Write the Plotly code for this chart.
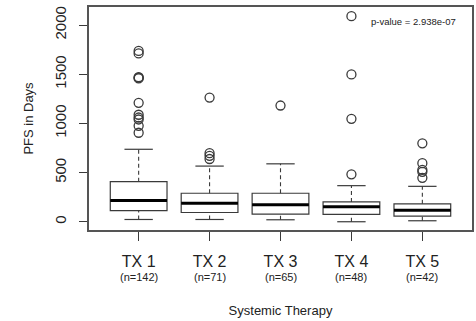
import plotly.graph_objects as go

groups = ["TX 1", "TX 2", "TX 3", "TX 4", "TX 5"]
counts = [142, 71, 65, 48, 42]
positions = [1, 2, 3, 4, 5]
lower_whisker = [23, 23, 20, 0, 10]
q1 = [114, 94, 78, 74, 58]
median = [215, 189, 172, 152, 118]
q3 = [407, 290, 290, 202, 182]
upper_whisker = [737, 566, 589, 367, 360]
outliers = [
    [1737, 1712, 1470, 1465, 1458, 1209, 1088, 1060, 1040, 975, 905],
    [1263, 697, 670, 638],
    [1182],
    [2091, 1498, 1047, 482],
    [798, 596, 528, 508, 447],
]
p_value_text = "p-value = 2.938e-07"
y_ticks = [0, 500, 1000, 1500, 2000]

FONT = "Liberation Sans, Arial, Helvetica, sans-serif"
LINE = "#3a3a3a"

fig = go.Figure()

# boxes
fig.add_trace(go.Box(
    x=positions, q1=q1, median=median, q3=q3,
    lowerfence=q1, upperfence=q3,
    width=0.8, fillcolor="white",
    line=dict(color=LINE, width=1.2),
    boxpoints=False, showlegend=False, hoverinfo="skip",
))

# dashed whiskers
wx, wy = [], []
for p, a, b, c, d in zip(positions, lower_whisker, q1, q3, upper_whisker):
    wx += [p, p, None, p, p, None]
    wy += [a, b, None, c, d, None]
fig.add_trace(go.Scatter(x=wx, y=wy, mode="lines",
                         line=dict(color=LINE, width=1.1, dash="4px,3px"),
                         showlegend=False, hoverinfo="skip"))

# caps
cx, cy = [], []
for p, a, d in zip(positions, lower_whisker, upper_whisker):
    cx += [p - 0.2, p + 0.2, None, p - 0.2, p + 0.2, None]
    cy += [a, a, None, d, d, None]
fig.add_trace(go.Scatter(x=cx, y=cy, mode="lines",
                         line=dict(color=LINE, width=1.2),
                         showlegend=False, hoverinfo="skip"))

# medians (thick)
mx, my = [], []
for p, m in zip(positions, median):
    mx += [p - 0.4, p + 0.4, None]
    my += [m, m, None]
fig.add_trace(go.Scatter(x=mx, y=my, mode="lines",
                         line=dict(color="black", width=3),
                         showlegend=False, hoverinfo="skip"))

# outliers
ox, oy = [], []
for p, vals in zip(positions, outliers):
    ox += [p] * len(vals)
    oy += vals
fig.add_trace(go.Scatter(x=ox, y=oy, mode="markers",
                         marker=dict(symbol="circle-open", size=9,
                                     color=LINE, line=dict(width=1.3, color=LINE)),
                         showlegend=False, hoverinfo="skip"))

annotations = [dict(
    text=p_value_text, xref="paper", yref="paper",
    x=0.963, y=0.933, xanchor="right", yanchor="middle",
    showarrow=False, font=dict(size=9.5, color="#222"),
)]
for p, n in zip(positions, counts):
    annotations.append(dict(
        text=f"(n={n})", xref="x", yref="paper", x=p, y=-0.211,
        xanchor="center", yanchor="middle", showarrow=False,
        font=dict(size=11, color="#222"),
    ))

fig.update_layout(
    width=476, height=321,
    margin=dict(l=89, r=4, t=7, b=91, autoexpand=False),
    paper_bgcolor="white", plot_bgcolor="white",
    font=dict(family=FONT, color="#222"),
    xaxis=dict(
        range=[0.3, 5.7], tickvals=positions, ticktext=groups,
        tickfont=dict(size=16, color="#222"), automargin=False,
        ticks="outside", ticklen=9, tickcolor=LINE, tickwidth=1,
        ticklabelstandoff=7,
        showgrid=False, zeroline=False,
        showline=True, mirror=True, linecolor="#555", linewidth=1.5,
        title=dict(text="Systemic Therapy", font=dict(size=13), standoff=37),
    ),
    yaxis=dict(
        range=[-84, 2184], tickvals=y_ticks,
        tickfont=dict(size=15, color="#222"), tickangle=-90,
        ticks="outside", ticklen=8, tickcolor=LINE, tickwidth=1,
        ticklabelstandoff=7, automargin=False,
        showgrid=False, zeroline=False,
        showline=True, mirror=True, linecolor="#555", linewidth=1.5,
        title=dict(text="PFS in Days", font=dict(size=13), standoff=16),
    ),
    annotations=annotations,
)

fig.write_html("out.html", config={"displayModeBar": False},
               post_script="document.body.style.margin='0';")
